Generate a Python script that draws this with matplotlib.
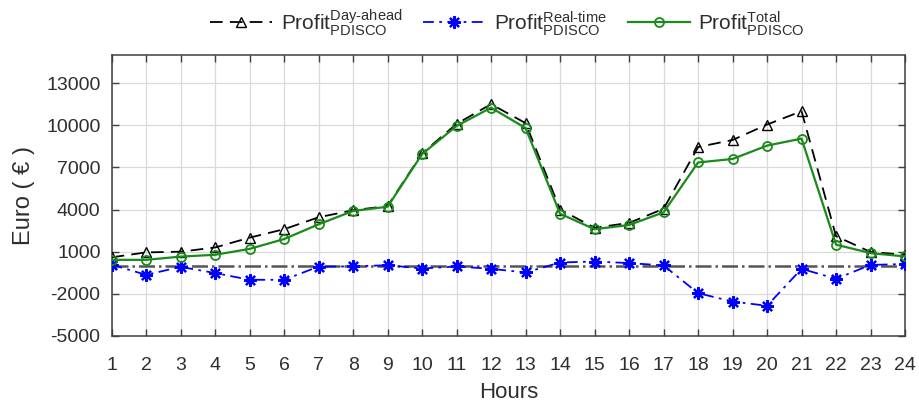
import matplotlib
matplotlib.use("Agg")
import matplotlib.pyplot as plt

plt.rcParams['font.family'] = ['Liberation Sans', 'DejaVu Sans']
plt.rcParams['mathtext.fontset'] = 'custom'
plt.rcParams['mathtext.rm'] = 'Liberation Sans'
plt.rcParams['mathtext.it'] = 'Liberation Sans'

hours = list(range(1, 25))
day_ahead = [600, 950, 1000, 1300, 2000, 2600, 3450, 3950, 4250, 8000, 10100, 11500,
             10150, 4000, 2700, 3050, 4050, 8450, 8950, 10050, 11000, 2100, 980, 780]
real_time = [80, -650, -80, -520, -1000, -1000, -60, -50, 40, -200, -50, -220,
             -480, 230, 300, 190, 20, -1950, -2550, -2850, -220, -930, 60, 120]
total = [420, 420, 650, 780, 1200, 1900, 2950, 3900, 4200, 7950, 9950, 11250,
         9800, 3700, 2600, 2900, 3800, 7350, 7600, 8550, 9050, 1500, 900, 660]
yticks = [-5000, -2000, 1000, 4000, 7000, 10000, 13000]

fig = plt.figure(figsize=(9.19, 4.05), dpi=100)
ax = fig.add_axes([0.1215, 0.1704, 0.8633, 0.6938])

txt = '#2e2e2e'
ax.axhline(0, color='#555555', linestyle='-.', linewidth=1.8, zorder=1)
l1, = ax.plot(hours, day_ahead, color='black', linestyle=(0, (7, 4)), linewidth=1.3,
              marker='^', markersize=7, markerfacecolor='none', markeredgecolor='black',
              zorder=3)
l2, = ax.plot(hours, real_time, color='#0000ff', linestyle=(0, (6, 3, 1.5, 3)), linewidth=1.3,
              marker=(8, 2, 0), markersize=9, markerfacecolor='#0000ff',
              markeredgecolor='#0000ff', markeredgewidth=1.6, zorder=4)
l3, = ax.plot(hours, total, color='#1a8a1a', linestyle='-', linewidth=1.6,
              marker='o', markersize=6.5, markerfacecolor='none', markeredgecolor='#1a8a1a',
              markeredgewidth=1.3, zorder=5)

ax.set_xlim(1, 24)
ax.set_ylim(-5000, 15000)
ax.set_xticks(hours)
ax.set_yticks(yticks)
ax.set_yticklabels([str(v) for v in yticks])
ax.grid(True, color='#d9d9d9', linewidth=0.9)
ax.set_axisbelow(True)
ax.tick_params(direction='in', top=True, right=True, length=5, width=1,
               colors='#404040', labelsize=14, labelcolor=txt)
ax.tick_params(axis='x', pad=15)
ax.tick_params(axis='y', pad=8)
for s in ax.spines.values():
    s.set_color('#404040')
    s.set_linewidth(1.1)
ax.set_xlabel('Hours', fontsize=16, color=txt, labelpad=6)
ax.set_ylabel('Euro ( € )', fontsize=17, color=txt, labelpad=8)

labels = [r'Profit$^{\mathrm{Day‐ahead}}_{\mathrm{PDISCO}}$',
          r'Profit$^{\mathrm{Real‐time}}_{\mathrm{PDISCO}}$',
          r'Profit$^{\mathrm{Total}}_{\mathrm{PDISCO}}$']
leg = fig.legend([l1, l2, l3], labels, loc='center', bbox_to_anchor=(0.552, 0.945),
                 ncol=3, frameon=False, fontsize=15, handlelength=3.0,
                 columnspacing=1.0, handletextpad=0.4)
for t in leg.get_texts():
    t.set_color(txt)

fig.savefig('out.png', dpi=100)
